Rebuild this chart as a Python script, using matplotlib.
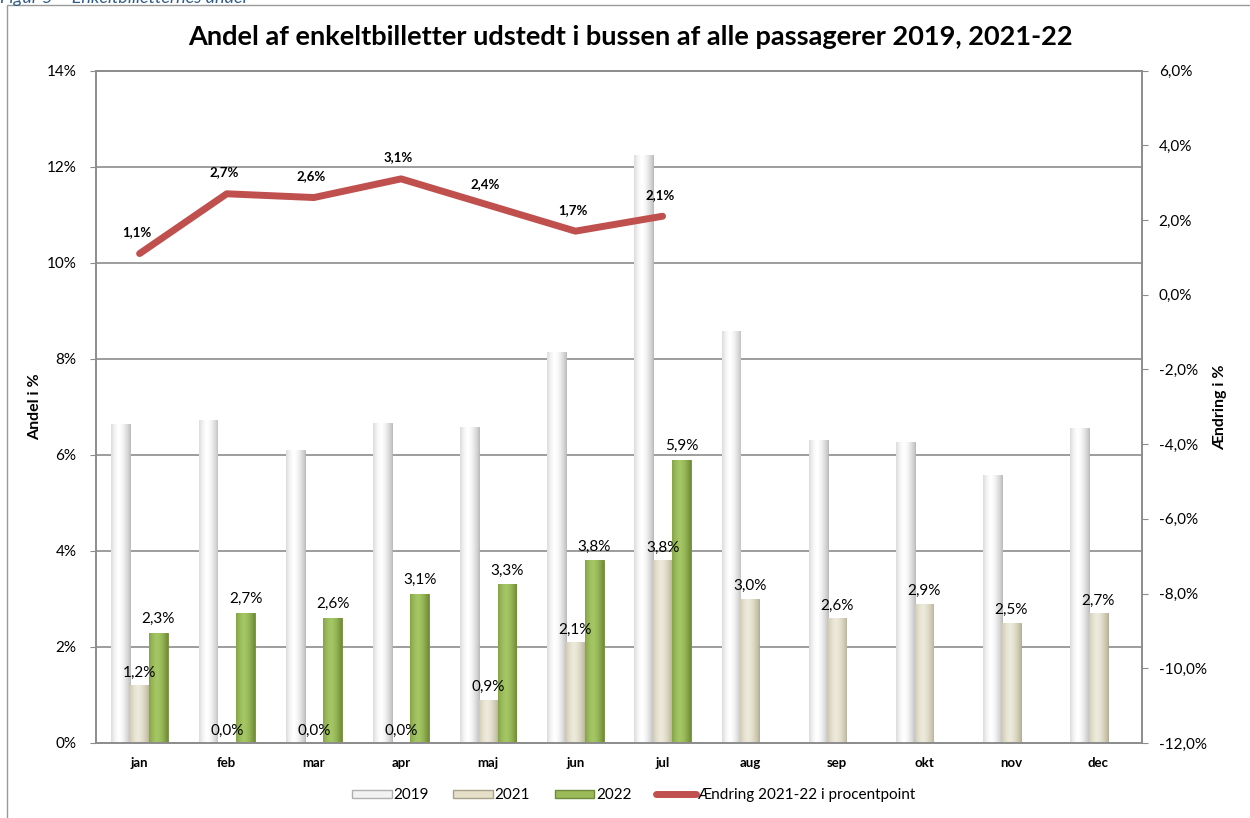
import numpy as np
import matplotlib
matplotlib.use("Agg")
import matplotlib.pyplot as plt
from matplotlib.patches import Patch, Rectangle
from matplotlib.lines import Line2D
from matplotlib.colors import to_rgb

# ------------------------------------------------------------
# Data (share of single tickets sold on the bus, %)
# ------------------------------------------------------------
months = ["jan", "feb", "mar", "apr", "maj", "jun", "jul", "aug", "sep", "okt", "nov", "dec"]
share_2019 = [6.64, 6.73, 6.11, 6.66, 6.57, 8.13, 12.25, 8.58, 6.31, 6.27, 5.58, 6.55]
share_2021 = [1.2, 0.0, 0.0, 0.0, 0.9, 2.1, 3.8, 3.0, 2.6, 2.9, 2.5, 2.7]
share_2022 = [2.3, 2.7, 2.6, 3.1, 3.3, 3.8, 5.9]
change_21_22 = [1.1, 2.7, 2.6, 3.1, 2.4, 1.7, 2.1]

series_labels = ["2019", "2021", "2022", "Ændring 2021-22 i procentpoint"]


def pct(v, dec=1):
    return f"{v:.{dec}f}%".replace(".", ",")


def shade_bar(ax, bar, edge, mid):
    """Paint a cylinder-like horizontal gradient inside a bar."""
    h = bar.get_height()
    if h <= 0:
        return
    x0, y0, w = bar.get_x(), bar.get_y(), bar.get_width()
    t = np.linspace(0, 1, 64)
    prof = np.clip(np.abs(t - 0.42) / 0.58, 0, 1) ** 1.6
    e, m = np.array(to_rgb(edge)), np.array(to_rgb(mid))
    cols = m[None, :] * (1 - prof[:, None]) + e[None, :] * prof[:, None]
    im = ax.imshow(cols[None, :, :], extent=(x0, x0 + w, y0, y0 + h),
                   aspect="auto", interpolation="bilinear", zorder=2.5)
    im.set_clip_path(bar)


plt.rcParams["font.family"] = ["Lato", "DejaVu Sans"]

fig = plt.figure(figsize=(12.5, 8.18), dpi=100)
ax = fig.add_axes([0.0768, 0.0917, 0.8368, 0.8221])
ax2 = ax.twinx()

x = np.arange(len(months))
w = 0.215
grid_col = "#8C8C8C"

b19 = ax.bar(x - w, share_2019, w, color="#FFFFFF", edgecolor="#B0B0B0", lw=0.6, zorder=2)
b21 = ax.bar(x, share_2021, w, color="#E6E0C9", edgecolor="#A8A28A", lw=0.6, zorder=2)
b22 = ax.bar(x[:len(share_2022)] + w, share_2022, w, color="#9BBB59", edgecolor="#6F8A3A",
             lw=0.6, zorder=2)

for bar in b19:
    shade_bar(ax, bar, "#C4C4C4", "#FFFFFF")
for bar in b21:
    shade_bar(ax, bar, "#BDB79C", "#EEEADB")
for bar in b22:
    shade_bar(ax, bar, "#6E8C34", "#A5C664")

# value labels for 2021 and 2022
for xi, v in zip(x, share_2021):
    ax.annotate(pct(v), (xi, v), xytext=(0, 4), textcoords="offset points",
                ha="center", va="bottom", fontsize=11, zorder=5)
for xi, v in zip(x[:len(share_2022)] + w, share_2022):
    ax.annotate(pct(v), (xi, v), xytext=(0, 5), textcoords="offset points",
                ha="center", va="bottom", fontsize=11, zorder=5)

ax.set_xlim(-0.5, len(months) - 0.5)
ax.set_ylim(0, 14)
ax.set_yticks(np.arange(0, 15, 2))
ax.set_yticklabels([f"{int(t)}%" for t in np.arange(0, 15, 2)], fontsize=11)
ax.set_xticks(x)
ax.set_xticklabels(months, fontsize=9.5, fontweight="bold")
ax.tick_params(axis="x", length=0, pad=10)
ax.tick_params(axis="y", length=4, color=grid_col, pad=10)
ax.yaxis.grid(True, color=grid_col, lw=1.2, zorder=0)
ax.set_axisbelow(True)
ax.set_ylabel("Andel i %", fontsize=11.5, fontweight="bold", labelpad=3)

# change in percentage points on the secondary axis
xc = x[:len(change_21_22)]
ax2.plot(xc, change_21_22, color="#C0504D", lw=5, solid_capstyle="round",
         solid_joinstyle="round", zorder=4)
for xi, v in zip(xc, change_21_22):
    ax2.annotate(pct(v), (xi, v), xytext=(-2, 11), textcoords="offset points",
                 ha="center", va="bottom", fontsize=9.5, fontweight="bold")
ax2.set_ylim(-12, 6)
ax2.set_yticks(np.arange(-12, 7, 2))
ax2.set_yticklabels([pct(t) for t in np.arange(-12, 7, 2)], fontsize=11)
ax2.tick_params(axis="y", length=4, color=grid_col, pad=8)
ax2.set_ylabel("Ændring i %", fontsize=11.5, fontweight="bold", labelpad=5)

for a in (ax, ax2):
    for side in ("left", "right", "bottom", "top"):
        a.spines[side].set_color(grid_col)
        a.spines[side].set_linewidth(1.2)

ax.set_xlim(-0.5, len(months) - 0.5)
ax.set_ylim(0, 14)
ax.set_aspect("auto")

fig.text(0.504, 0.955, "Andel af enkeltbilletter udstedt i bussen af alle passagerer 2019, 2021-22",
         ha="center", va="center", fontsize=19.5, fontweight="bold")

handles = [
    Patch(facecolor="#F2F2F2", edgecolor="#B0B0B0"),
    Patch(facecolor="#E6E0C9", edgecolor="#A8A28A"),
    Patch(facecolor="#9BBB59", edgecolor="#6F8A3A"),
    Line2D([0], [0], color="#C0504D", lw=5, solid_capstyle="round"),
]
fig.legend(handles, series_labels, loc="center", bbox_to_anchor=(0.507, 0.028),
           ncol=4, frameon=False, fontsize=11, handlelength=2.6, handleheight=0.45,
           handletextpad=0.1, columnspacing=1.6)

# outer chart frame and caption running off the top edge
fig.add_artist(Rectangle((7 / 1250, -0.05), 1.2, 1 - 5 / 818 + 0.05, transform=fig.transFigure,
                         fill=False, edgecolor="#9A9A9A", lw=1.0, clip_on=False))
fig.text(0.0, 1 - 3 / 818, "Figur 5 – Enkeltbilletternes andel", ha="left", va="baseline",
         fontsize=13, style="italic", color="#2F5D8A")

fig.savefig("out.png", dpi=100)
